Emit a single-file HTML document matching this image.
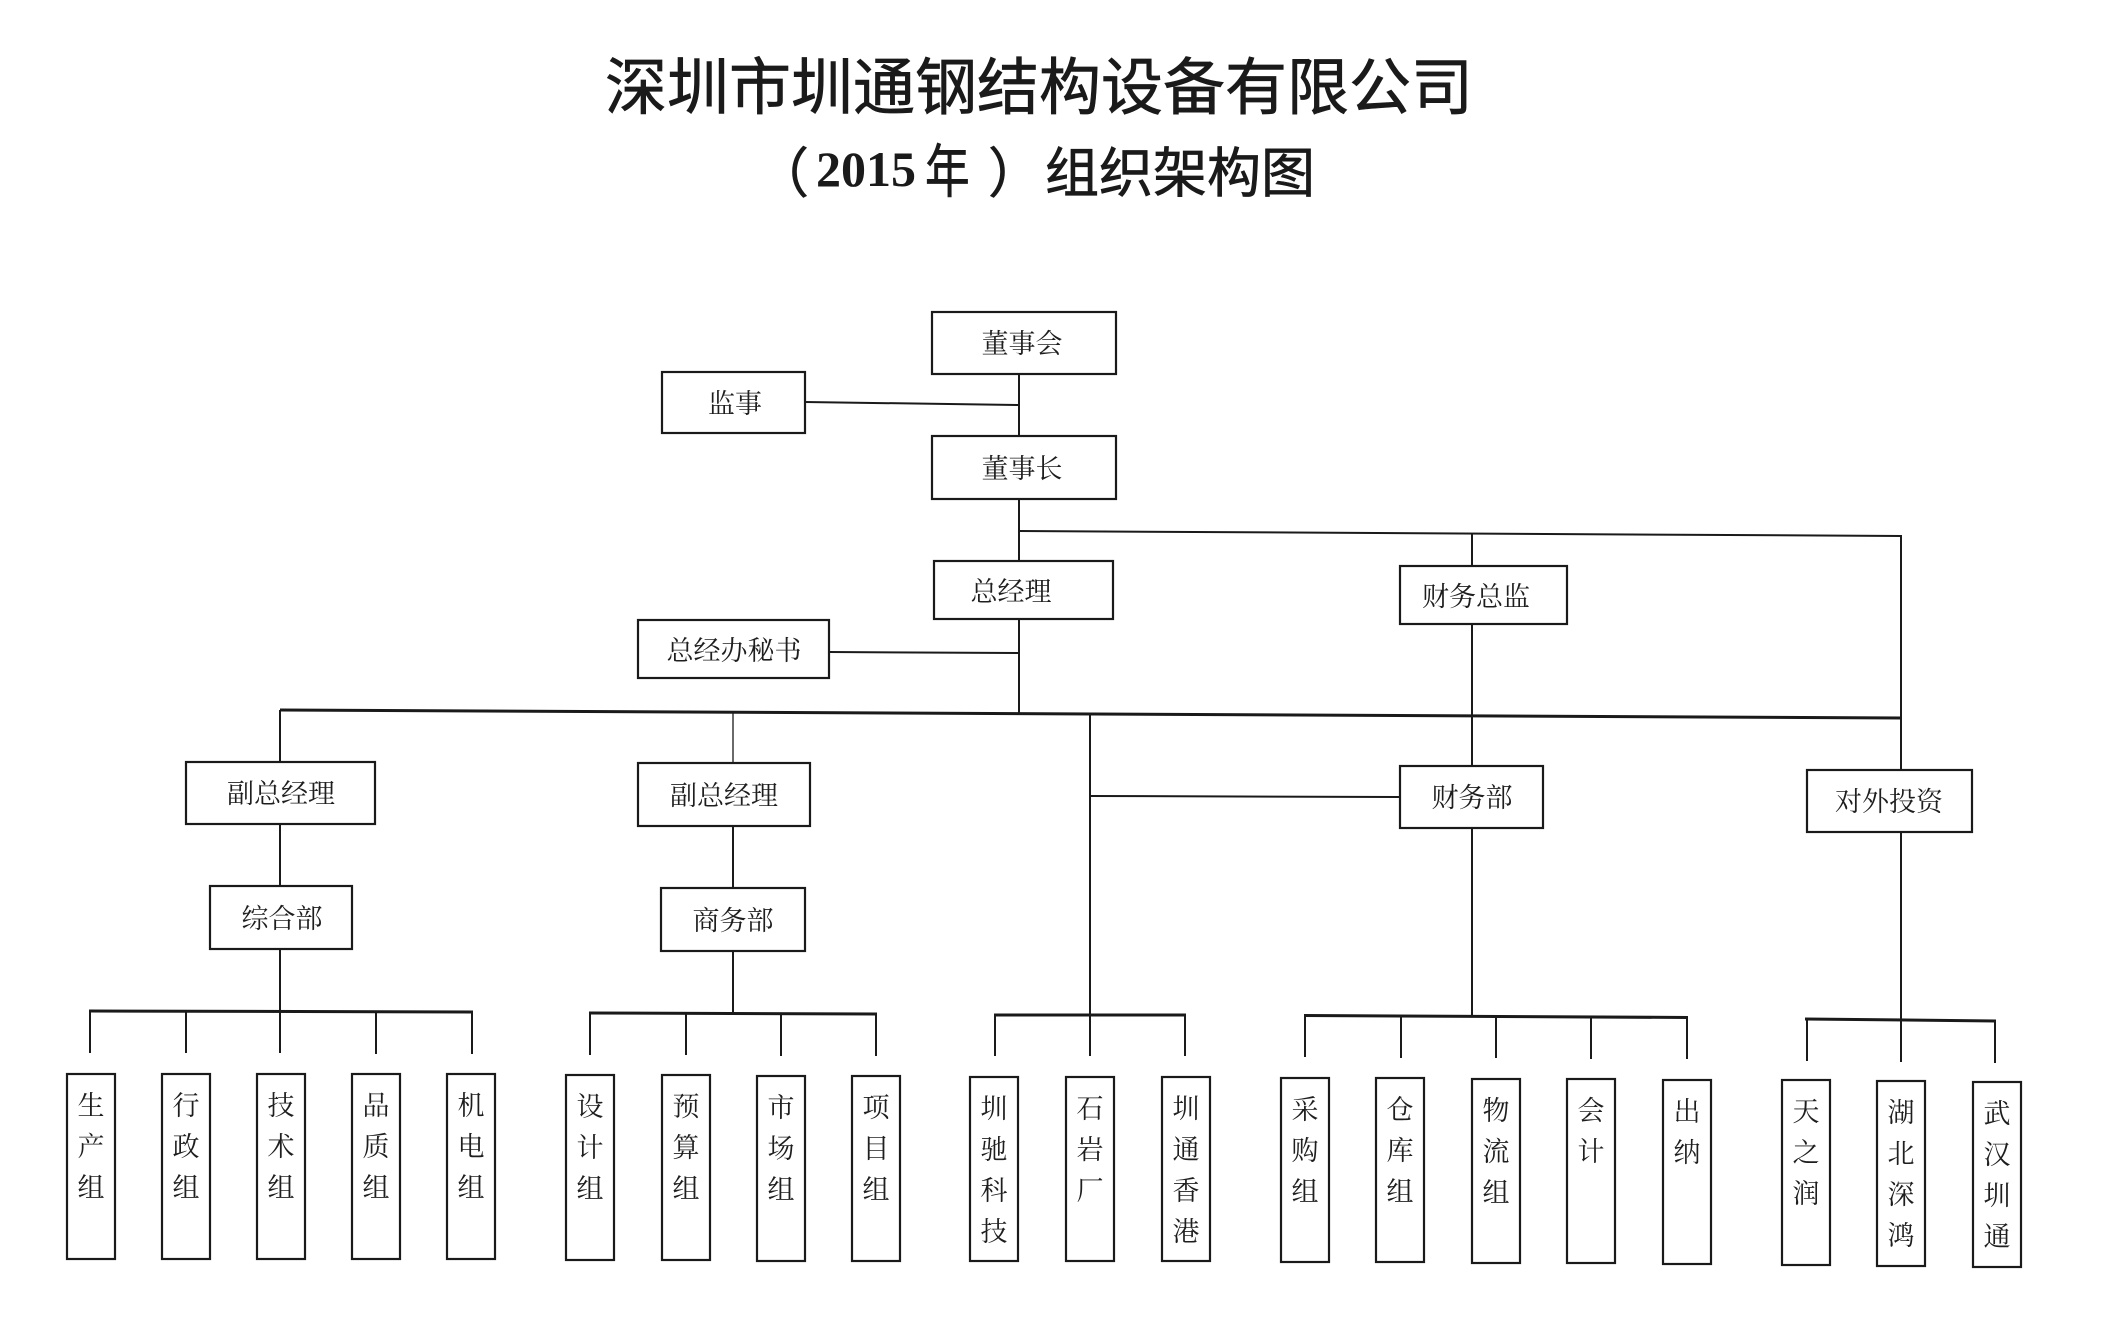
<!DOCTYPE html>
<html>
<head>
<meta charset="utf-8">
<style>
html,body{margin:0;padding:0;background:#fff;}
svg{display:block;}
.t1{font-family:"Liberation Sans","Noto Sans CJK SC",sans-serif;fill:#1a1a1a;stroke:#1a1a1a;stroke-width:0.7;}
.lb{font-family:"Liberation Serif","Noto Serif CJK SC",serif;fill:#1e1e1e;font-size:27px;}
.bx{fill:#fff;stroke:#1a1a1a;stroke-width:2.2;}
.ln{stroke:#1a1a1a;stroke-width:2;fill:none;}
.bar{stroke:#1a1a1a;stroke-width:3;fill:none;}
</style>
</head>
<body>
<svg width="2114" height="1320" viewBox="0 0 2114 1320" xmlns="http://www.w3.org/2000/svg">
<rect x="0" y="0" width="2114" height="1320" fill="#fff"/>

<!-- Title -->
<text class="t1" x="1039" y="109" font-size="62" text-anchor="middle">深圳市圳通钢结构设备有限公司</text>
<text class="t1" x="755" y="192" font-size="54">（</text>
<text x="816" y="186" font-size="50" font-weight="bold" font-family="Liberation Serif, serif" fill="#1a1a1a">2015</text>
<text class="t1" transform="translate(925,192) scale(0.77,1)" x="0" y="0" font-size="58">年</text>
<text class="t1" x="988" y="192" font-size="54">）</text>
<text class="t1" x="1045" y="192" font-size="54">组织架构图</text>

<!-- Connectors -->
<line class="ln" x1="1019" y1="374" x2="1019" y2="436"/>
<line class="ln" x1="805" y1="402" x2="1019" y2="405"/>
<line class="ln" x1="1019" y1="499" x2="1019" y2="561"/>
<line class="ln" x1="1019" y1="531" x2="1901" y2="536"/>
<line class="ln" x1="1472" y1="533" x2="1472" y2="566"/>
<line class="ln" x1="1901" y1="535" x2="1901" y2="770"/>
<line class="ln" x1="1019" y1="619" x2="1019" y2="714"/>
<line class="ln" x1="829" y1="652" x2="1019" y2="653"/>
<line class="bar" x1="280" y1="710" x2="1902" y2="718"/>
<line class="ln" x1="1472" y1="624" x2="1472" y2="766"/>
<line class="ln" x1="280" y1="710" x2="280" y2="762"/>
<line class="ln" x1="733" y1="712" x2="733" y2="763" style="stroke-width:1.3"/>
<line class="ln" x1="1090" y1="714" x2="1090" y2="1015"/>
<line class="ln" x1="1090" y1="796" x2="1400" y2="797"/>
<line class="ln" x1="280" y1="824" x2="280" y2="886"/>
<line class="ln" x1="280" y1="949" x2="280" y2="1011"/>
<line class="ln" x1="733" y1="826" x2="733" y2="888"/>
<line class="ln" x1="733" y1="951" x2="733" y2="1013"/>
<line class="ln" x1="1472" y1="828" x2="1472" y2="1016"/>
<line class="ln" x1="1901" y1="832" x2="1901" y2="1020"/>

<!-- Group bars -->
<line class="bar" x1="89" y1="1011" x2="473" y2="1012"/>
<line class="bar" x1="589" y1="1013" x2="877" y2="1014"/>
<line class="bar" x1="994" y1="1015" x2="1186" y2="1015"/>
<line class="bar" x1="1304" y1="1015.5" x2="1688" y2="1017.5"/>
<line class="bar" x1="1805" y1="1019" x2="1996" y2="1021"/>

<!-- Drops -->
<g class="ln">
<line x1="90" y1="1011" x2="90" y2="1053"/>
<line x1="186" y1="1011" x2="186" y2="1053"/>
<line x1="280" y1="1011" x2="280" y2="1053"/>
<line x1="376" y1="1012" x2="376" y2="1054"/>
<line x1="472" y1="1012" x2="472" y2="1054"/>
<line x1="590" y1="1013" x2="590" y2="1055"/>
<line x1="686" y1="1013" x2="686" y2="1055"/>
<line x1="781" y1="1014" x2="781" y2="1056"/>
<line x1="876" y1="1014" x2="876" y2="1056"/>
<line x1="995" y1="1015" x2="995" y2="1056"/>
<line x1="1090" y1="1015" x2="1090" y2="1056"/>
<line x1="1185" y1="1015" x2="1185" y2="1056"/>
<line x1="1305" y1="1015.5" x2="1305" y2="1057"/>
<line x1="1401" y1="1016" x2="1401" y2="1058"/>
<line x1="1496" y1="1016.5" x2="1496" y2="1058"/>
<line x1="1591" y1="1017" x2="1591" y2="1059"/>
<line x1="1687" y1="1017.5" x2="1687" y2="1059"/>
<line x1="1807" y1="1019" x2="1807" y2="1061"/>
<line x1="1901" y1="1020" x2="1901" y2="1062"/>
<line x1="1995" y1="1021" x2="1995" y2="1063"/>
</g>

<!-- Upper boxes -->
<rect class="bx" x="932" y="312" width="184" height="62"/>
<text class="lb" x="1022" y="353" text-anchor="middle">董事会</text>

<rect class="bx" x="662" y="372" width="143" height="61"/>
<text class="lb" x="735" y="413" text-anchor="middle">监事</text>

<rect class="bx" x="932" y="436" width="184" height="63"/>
<text class="lb" x="1022" y="478" text-anchor="middle">董事长</text>

<rect class="bx" x="934" y="561" width="179" height="58"/>
<text class="lb" x="1011" y="601" text-anchor="middle">总经理</text>

<rect class="bx" x="1400" y="566" width="167" height="58"/>
<text class="lb" x="1476" y="606" text-anchor="middle">财务总监</text>

<rect class="bx" x="638" y="620" width="191" height="58"/>
<text class="lb" x="734" y="660" text-anchor="middle">总经办秘书</text>

<rect class="bx" x="186" y="762" width="189" height="62"/>
<text class="lb" x="281" y="803" text-anchor="middle">副总经理</text>

<rect class="bx" x="638" y="763" width="172" height="63"/>
<text class="lb" x="724" y="805" text-anchor="middle">副总经理</text>

<rect class="bx" x="1400" y="766" width="143" height="62"/>
<text class="lb" x="1472" y="807" text-anchor="middle">财务部</text>

<rect class="bx" x="1807" y="770" width="165" height="62"/>
<text class="lb" x="1889" y="811" text-anchor="middle">对外投资</text>

<rect class="bx" x="210" y="886" width="142" height="63"/>
<text class="lb" x="282" y="928" text-anchor="middle">综合部</text>

<rect class="bx" x="661" y="888" width="144" height="63"/>
<text class="lb" x="733" y="930" text-anchor="middle">商务部</text>

<!-- Leaf boxes -->
<g>
<rect class="bx" x="67" y="1074" width="48" height="185"/>
<text class="lb" x="91" y="1115" text-anchor="middle">生</text>
<text class="lb" x="91" y="1156" text-anchor="middle">产</text>
<text class="lb" x="91" y="1197" text-anchor="middle">组</text>

<rect class="bx" x="162" y="1074" width="48" height="185"/>
<text class="lb" x="186" y="1115" text-anchor="middle">行</text>
<text class="lb" x="186" y="1156" text-anchor="middle">政</text>
<text class="lb" x="186" y="1197" text-anchor="middle">组</text>

<rect class="bx" x="257" y="1074" width="48" height="185"/>
<text class="lb" x="281" y="1115" text-anchor="middle">技</text>
<text class="lb" x="281" y="1156" text-anchor="middle">术</text>
<text class="lb" x="281" y="1197" text-anchor="middle">组</text>

<rect class="bx" x="352" y="1074" width="48" height="185"/>
<text class="lb" x="376" y="1115" text-anchor="middle">品</text>
<text class="lb" x="376" y="1156" text-anchor="middle">质</text>
<text class="lb" x="376" y="1197" text-anchor="middle">组</text>

<rect class="bx" x="447" y="1074" width="48" height="185"/>
<text class="lb" x="471" y="1115" text-anchor="middle">机</text>
<text class="lb" x="471" y="1156" text-anchor="middle">电</text>
<text class="lb" x="471" y="1197" text-anchor="middle">组</text>

<rect class="bx" x="566" y="1075" width="48" height="185"/>
<text class="lb" x="590" y="1116" text-anchor="middle">设</text>
<text class="lb" x="590" y="1157" text-anchor="middle">计</text>
<text class="lb" x="590" y="1198" text-anchor="middle">组</text>

<rect class="bx" x="662" y="1075" width="48" height="185"/>
<text class="lb" x="686" y="1116" text-anchor="middle">预</text>
<text class="lb" x="686" y="1157" text-anchor="middle">算</text>
<text class="lb" x="686" y="1198" text-anchor="middle">组</text>

<rect class="bx" x="757" y="1076" width="48" height="185"/>
<text class="lb" x="781" y="1117" text-anchor="middle">市</text>
<text class="lb" x="781" y="1158" text-anchor="middle">场</text>
<text class="lb" x="781" y="1199" text-anchor="middle">组</text>

<rect class="bx" x="852" y="1076" width="48" height="185"/>
<text class="lb" x="876" y="1117" text-anchor="middle">项</text>
<text class="lb" x="876" y="1158" text-anchor="middle">目</text>
<text class="lb" x="876" y="1199" text-anchor="middle">组</text>

<rect class="bx" x="970" y="1077" width="48" height="184"/>
<text class="lb" x="994" y="1118" text-anchor="middle">圳</text>
<text class="lb" x="994" y="1159" text-anchor="middle">驰</text>
<text class="lb" x="994" y="1200" text-anchor="middle">科</text>
<text class="lb" x="994" y="1241" text-anchor="middle">技</text>

<rect class="bx" x="1066" y="1077" width="48" height="184"/>
<text class="lb" x="1090" y="1118" text-anchor="middle">石</text>
<text class="lb" x="1090" y="1159" text-anchor="middle">岩</text>
<text class="lb" x="1090" y="1200" text-anchor="middle">厂</text>

<rect class="bx" x="1162" y="1077" width="48" height="184"/>
<text class="lb" x="1186" y="1118" text-anchor="middle">圳</text>
<text class="lb" x="1186" y="1159" text-anchor="middle">通</text>
<text class="lb" x="1186" y="1200" text-anchor="middle">香</text>
<text class="lb" x="1186" y="1241" text-anchor="middle">港</text>

<rect class="bx" x="1281" y="1078" width="48" height="184"/>
<text class="lb" x="1305" y="1119" text-anchor="middle">采</text>
<text class="lb" x="1305" y="1160" text-anchor="middle">购</text>
<text class="lb" x="1305" y="1201" text-anchor="middle">组</text>

<rect class="bx" x="1376" y="1078" width="48" height="184"/>
<text class="lb" x="1400" y="1119" text-anchor="middle">仓</text>
<text class="lb" x="1400" y="1160" text-anchor="middle">库</text>
<text class="lb" x="1400" y="1201" text-anchor="middle">组</text>

<rect class="bx" x="1472" y="1079" width="48" height="184"/>
<text class="lb" x="1496" y="1120" text-anchor="middle">物</text>
<text class="lb" x="1496" y="1161" text-anchor="middle">流</text>
<text class="lb" x="1496" y="1202" text-anchor="middle">组</text>

<rect class="bx" x="1567" y="1079" width="48" height="184"/>
<text class="lb" x="1591" y="1120" text-anchor="middle">会</text>
<text class="lb" x="1591" y="1161" text-anchor="middle">计</text>

<rect class="bx" x="1663" y="1080" width="48" height="184"/>
<text class="lb" x="1687" y="1121" text-anchor="middle">出</text>
<text class="lb" x="1687" y="1162" text-anchor="middle">纳</text>

<rect class="bx" x="1782" y="1080" width="48" height="185"/>
<text class="lb" x="1806" y="1121" text-anchor="middle">天</text>
<text class="lb" x="1806" y="1162" text-anchor="middle">之</text>
<text class="lb" x="1806" y="1203" text-anchor="middle">润</text>

<rect class="bx" x="1877" y="1081" width="48" height="185"/>
<text class="lb" x="1901" y="1122" text-anchor="middle">湖</text>
<text class="lb" x="1901" y="1163" text-anchor="middle">北</text>
<text class="lb" x="1901" y="1204" text-anchor="middle">深</text>
<text class="lb" x="1901" y="1245" text-anchor="middle">鸿</text>

<rect class="bx" x="1973" y="1082" width="48" height="185"/>
<text class="lb" x="1997" y="1123" text-anchor="middle">武</text>
<text class="lb" x="1997" y="1164" text-anchor="middle">汉</text>
<text class="lb" x="1997" y="1205" text-anchor="middle">圳</text>
<text class="lb" x="1997" y="1246" text-anchor="middle">通</text>
</g>
</svg>
</body>
</html>
